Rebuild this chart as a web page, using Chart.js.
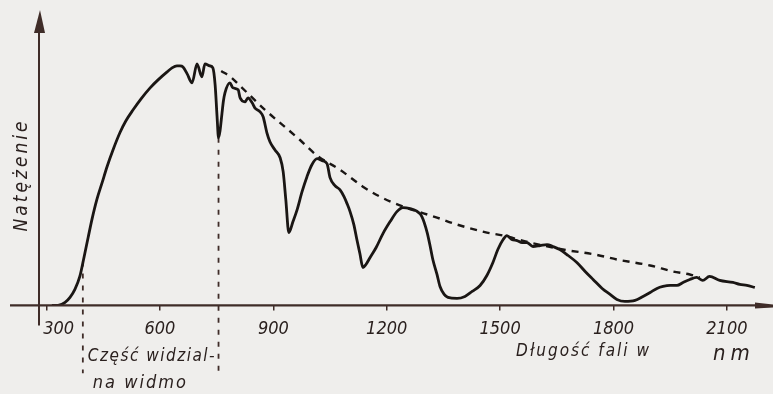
<!DOCTYPE html>
<html lang="pl">
<head>
<meta charset="UTF-8">
<title>Widmo promieniowania słonecznego</title>
<script src="https://cdn.jsdelivr.net/npm/chart.js"></script>
<style>
  html, body { margin: 0; padding: 0; background: #efeeec; }
  #wrap { width: 773px; height: 394px; }
</style>
</head>
<body>
<div id="wrap"><canvas id="widmo" width="773" height="394"></canvas></div>
<script>
  // długość fali [nm] i natężenie (jednostki umowne)
  const dlugosci = [314, 330, 349, 362, 375, 388, 399, 410, 420, 433, 447, 460, 476, 494, 510, 529, 550, 574, 595, 619, 632, 645, 653, 661, 672, 685, 698, 711, 719, 732, 740, 746, 751, 755, 759, 764, 768, 772, 785, 793, 807, 812, 825, 833, 844, 851, 865, 873, 883, 891, 904, 918, 926, 933, 941, 952, 963, 976, 989, 1002, 1016, 1029, 1042, 1050, 1063, 1076, 1087, 1095, 1103, 1113, 1121, 1129, 1137, 1145, 1156, 1172, 1190, 1209, 1227, 1243, 1262, 1277, 1293, 1307, 1314, 1322, 1333, 1341, 1352, 1362, 1386, 1407, 1426, 1447, 1465, 1481, 1494, 1508, 1518, 1531, 1545, 1558, 1571, 1587, 1606, 1624, 1640, 1658, 1680, 1703, 1725, 1746, 1770, 1791, 1809, 1830, 1857, 1878, 1897, 1915, 1931, 1950, 1968, 1984, 2002, 2020, 2036, 2054, 2081, 2116, 2134, 2153, 2174];
  const natezenie = [0, 0, 3, 8, 16, 29, 48, 68, 86, 106, 123, 139, 156, 173, 185, 196, 207, 218, 226, 234, 238, 240, 240, 239, 232, 223, 242, 229, 242, 240, 238, 221, 190, 168, 175, 192, 205, 213, 223, 218, 216, 208, 204, 208, 203, 198, 194, 189, 173, 164, 156, 148, 134, 106, 73, 84, 96, 114, 129, 141, 147, 145, 142, 128, 120, 116, 109, 102, 94, 81, 66, 52, 38, 41, 48, 58, 72, 84, 94, 98, 97, 95, 89, 73, 61, 46, 31, 19, 11, 8, 7, 9, 14, 20, 30, 43, 56, 66, 70, 66, 65, 63, 63, 59, 60, 61, 59, 56, 50, 43, 34, 26, 17, 11, 6, 4, 5, 9, 13, 17, 19, 20, 20, 23, 26, 28, 25, 29, 25, 23, 21, 20, 18];

  // obwiednia (linia przerywana)
  const obwiedniaX = [762, 790, 812, 878, 970, 1016, 1076, 1137, 1182, 1243, 1333, 1386, 1465, 1508, 1579, 1666, 1751, 1809, 1897, 1957, 2002, 2028];
  const obwiedniaY = [235, 228, 220, 196, 166, 150, 136, 119, 109, 99, 88, 81, 73, 70, 63, 56, 51, 46, 40, 34, 31, 28];

  // granice części widzialnej
  const granice = [396, 755];
  const graniceGora = [44, 168];
  const podzialka = [300, 600, 900, 1200, 1500, 1800, 2100];

  const kolorOsi = '#3f2c28';
  const kolorLinii = '#1a1614';
  const czcionka = "'DejaVu Sans Condensed', 'Liberation Sans Narrow', 'DejaVu Sans', sans-serif";

  const pionowe = granice.map((x, i) => ({
    data: [{ x: x, y: graniceGora[i] }, { x: x, y: -68 }],
    borderColor: kolorOsi,
    borderWidth: 1.8,
    borderDash: [5, 7],
    pointRadius: 0,
    clip: false
  }));

  const osie = {
    id: 'osie',
    afterDraw(chart) {
      const ctx = chart.ctx;
      const xs = chart.scales.x;
      const a = chart.chartArea;
      ctx.save();
      ctx.strokeStyle = kolorOsi;
      ctx.fillStyle = kolorOsi;
      ctx.lineWidth = 2.4;
      // oś X
      ctx.beginPath();
      ctx.moveTo(10, a.bottom);
      ctx.lineTo(a.right - 15, a.bottom);
      ctx.stroke();
      ctx.beginPath();
      ctx.moveTo(a.right - 18, a.bottom - 3);
      ctx.lineTo(a.right, a.bottom - 1);
      ctx.lineTo(a.right, a.bottom + 2);
      ctx.lineTo(a.right - 18, a.bottom + 3);
      ctx.closePath();
      ctx.fill();
      // oś Y
      ctx.lineWidth = 2;
      ctx.beginPath();
      ctx.moveTo(a.left, 32);
      ctx.lineTo(a.left, a.bottom + 20);
      ctx.stroke();
      ctx.beginPath();
      ctx.moveTo(a.left + 1, 10);
      ctx.lineTo(a.left + 6, 33);
      ctx.lineTo(a.left - 5, 33);
      ctx.closePath();
      ctx.fill();

      // napisy
      ctx.fillStyle = '#2a201e';
      ctx.textBaseline = 'middle';
      ctx.letterSpacing = '1.5px';
      ctx.font = 'italic 17px ' + czcionka;
      const x0 = xs.getPixelForValue(granice[0]);
      ctx.fillText('Część widzial-', x0 + 5, 357);
      ctx.letterSpacing = '2px';
      ctx.font = 'italic 18px ' + czcionka;
      ctx.fillText('na widmo', x0 + 10, 383);
      ctx.letterSpacing = '2px';
      ctx.font = 'italic 17px ' + czcionka;
      ctx.fillText('Długość fali w', xs.getPixelForValue(1500) + 16, 352);
      ctx.letterSpacing = '5px';
      ctx.font = 'italic 22px ' + czcionka;
      ctx.fillText('nm', xs.getPixelForValue(2100) - 14, 354);

      ctx.letterSpacing = '3px';
      ctx.font = 'italic 19px ' + czcionka;
      ctx.translate(22, 175);
      ctx.rotate(-Math.PI / 2);
      ctx.textAlign = 'center';
      ctx.fillText('Natężenie', 0, 0);
      ctx.restore();
    }
  };

  new Chart(document.getElementById('widmo'), {
    type: 'line',
    data: {
      datasets: [
        {
          data: dlugosci.map((x, i) => ({ x: x, y: natezenie[i] })),
          borderColor: kolorLinii,
          borderWidth: 2.8,
          pointRadius: 0,
          cubicInterpolationMode: 'monotone'
        },
        {
          data: obwiedniaX.map((x, i) => ({ x: x, y: obwiedniaY[i] })),
          borderColor: kolorLinii,
          borderWidth: 2.4,
          borderDash: [7, 6],
          pointRadius: 0,
          cubicInterpolationMode: 'monotone'
        },
        ...pionowe
      ]
    },
    options: {
      responsive: false,
      devicePixelRatio: 1,
      animation: false,
      layout: { padding: { left: 39, right: 0, top: 15, bottom: 46 } },
      plugins: { legend: { display: false }, tooltip: { enabled: false } },
      scales: {
        x: {
          type: 'linear',
          min: 280,
          max: 2222,
          afterBuildTicks: s => { s.ticks = podzialka.map(v => ({ value: v })); },
          ticks: {
            autoSkip: false,
            maxRotation: 0,
            padding: 8,
            color: '#2a201e',
            font: { family: czcionka, size: 18, style: 'italic' },
            callback: v => v === 300 ? '\u2002\u2002\u2002300' : String(v)
          },
          grid: { drawOnChartArea: false, drawTicks: true, tickLength: 5, color: kolorOsi, lineWidth: 1.5 },
          border: { display: false }
        },
        y: { display: false, min: 0, max: 291 }
      }
    },
    plugins: [osie]
  });
</script>
</body>
</html>
